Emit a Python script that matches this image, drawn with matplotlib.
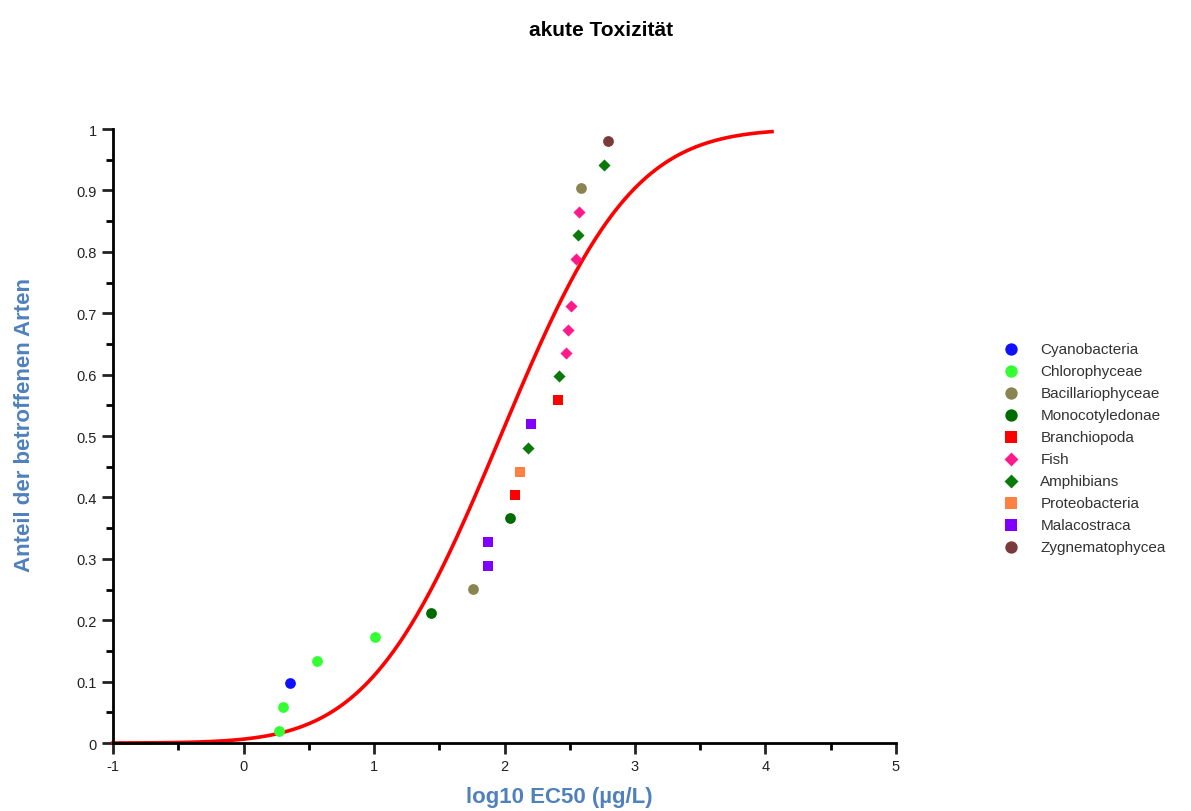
import math
import matplotlib
matplotlib.use("Agg")
import matplotlib.pyplot as plt
from matplotlib.ticker import MultipleLocator

plt.rcParams['font.family'] = ['Liberation Sans', 'DejaVu Sans']

# Daten: log10 EC50 und Anteil der betroffenen Arten
gruppen = ["Cyanobacteria", "Chlorophyceae", "Bacillariophyceae", "Monocotyledonae",
           "Branchiopoda", "Fish", "Amphibians", "Proteobacteria", "Malacostraca",
           "Zygnematophycea"]
x_cyano = [0.36]
y_cyano = [0.097]
x_chloro = [0.27, 0.30, 0.56, 1.01]
y_chloro = [0.020, 0.059, 0.134, 0.173]
x_bacil = [1.76, 2.59]
y_bacil = [0.251, 0.904]
x_mono = [1.44, 2.04]
y_mono = [0.211, 0.366]
x_branch = [2.08, 2.41]
y_branch = [0.404, 0.559]
x_fish = [2.47, 2.49, 2.51, 2.55, 2.57]
y_fish = [0.635, 0.673, 0.711, 0.789, 0.865]
x_amph = [2.18, 2.42, 2.56, 2.76]
y_amph = [0.480, 0.597, 0.827, 0.942]
x_proteo = [2.12]
y_proteo = [0.442]
x_mala = [1.87, 1.87, 2.20]
y_mala = [0.289, 0.327, 0.520]
x_zyg = [2.79]
y_zyg = [0.980]

# angepasste Verteilung (log-normal)
mu = 1.97
sigma = 0.79

fig = plt.figure(figsize=(11.91, 8.12), dpi=100)
ax = fig.add_axes([0.0949, 0.0837, 0.6574, 0.7562])

n = 300
xs = [-1 + i * (4.05 + 1) / (n - 1) for i in range(n)]
ys = [0.5 * (1 + math.erf((v - mu) / (sigma * math.sqrt(2)))) for v in xs]
ax.plot(xs, ys, color='#ff0000', lw=2.6, zorder=2, clip_on=False)

serien = [
    (x_cyano, y_cyano, '#1010ff', 'o'),
    (x_chloro, y_chloro, '#33ff33', 'o'),
    (x_bacil, y_bacil, '#8a8450', 'o'),
    (x_mono, y_mono, '#006b00', 'o'),
    (x_branch, y_branch, '#ff0000', 's'),
    (x_fish, y_fish, '#ff1a8c', 'D'),
    (x_amph, y_amph, '#0a7a0a', 'D'),
    (x_proteo, y_proteo, '#ff8040', 's'),
    (x_mala, y_mala, '#8000ff', 's'),
    (x_zyg, y_zyg, '#7a3a3a', 'o'),
]
groessen = {'o': 60, 's': 62, 'D': 38}
for name, (xv, yv, farbe, m) in zip(gruppen, serien):
    ax.scatter(xv, yv, color=farbe, marker=m, s=groessen[m], label=name,
               zorder=3, linewidths=0, clip_on=False)

ax.set_xlim(-1, 5)
ax.set_ylim(0, 1)
ax.xaxis.set_minor_locator(MultipleLocator(0.5))
ax.yaxis.set_minor_locator(MultipleLocator(0.05))
ax.set_yticks([i / 10 for i in range(11)])
ax.set_yticklabels(['0'] + ['%.1f' % (i / 10) for i in range(1, 10)] + ['1'])
ax.set_xticks(range(-1, 6))
ax.set_xticklabels([str(i) for i in range(-1, 6)])

for s in ['top', 'right']:
    ax.spines[s].set_visible(False)
for s in ['left', 'bottom']:
    ax.spines[s].set_linewidth(2)
ax.tick_params(which='major', length=8, width=2, labelsize=10.5, colors='#222222')
ax.tick_params(which='minor', length=5, width=2)

ax.set_xlabel('log10 EC50 (µg/L)', color='#4f81bd', fontsize=16, fontweight='bold')
ax.xaxis.set_label_coords(0.57, -0.07)
ax.set_ylabel('Anteil der betroffenen Arten', color='#4f81bd', fontsize=16,
              fontweight='bold')
ax.yaxis.set_label_coords(-0.1, 0.52)

fig.text(0.505, 0.962, 'akute Toxizität', ha='center', va='center', fontsize=15,
         fontweight='bold')

leg = ax.legend(loc='upper left', bbox_to_anchor=(1.12, 0.663), frameon=False,
                fontsize=11, handletextpad=0.9, labelspacing=0.52,
                borderaxespad=0, scatterpoints=1, markerscale=1.15)
for t in leg.get_texts():
    t.set_color('#333333')

fig.savefig('out.png', dpi=100)
